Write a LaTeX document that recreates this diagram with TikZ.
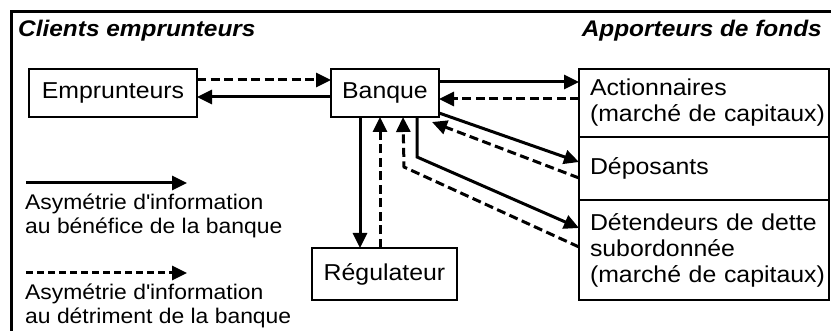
\documentclass[tikz,border=0pt]{standalone}
\usepackage{fontspec}
\setmainfont[FakeStretch=1.08]{Liberation Sans}
\usetikzlibrary{arrows.meta}
\newcommand\bxfont{\fontsize{23}{26}\selectfont}
\newcommand\lgfont{\fontsize{21.2}{24}\selectfont}
\newcommand\ttfontx{\bfseries\itshape\fontsize{22.6}{24}\selectfont}
\newcommand\bl[1]{\mbox{\hspace*{6pt}#1}}
\begin{document}
\begin{tikzpicture}[x=1pt,y=-1pt,
  box/.style={draw,line width=2.2pt,rectangle,inner sep=0pt,outer sep=0pt,font=\bxfont},
  rbox/.style={box,minimum width=250pt,text width=240pt,align=left,inner xsep=5pt,anchor=north west},
  sol/.style={line width=3pt,-{Triangle[length=15pt,width=14pt]}},
  dsh/.style={sol,dash pattern=on 9pt off 4.5pt},
  lgd/.style={font=\lgfont,align=left,inner sep=0pt,anchor=west},
  ttl/.style={font=\ttfontx,inner sep=0pt}]
\useasboundingbox (0,0) rectangle (831,331);
% frame
\draw[line width=2.2pt] (11.5,331) -- (11.5,11.5) -- (831,11.5);
% titles
\node[ttl,anchor=base west] (tl) at (18,37) {Clients emprunteurs};
\node[ttl,anchor=base east] (tr) at (822,37) {Apporteurs de fonds};
% boxes
\node[box,minimum width=168pt,minimum height=48pt] (emp) at (113,93) {Emprunteurs};
\node[box,minimum width=108pt,minimum height=48pt] (ban) at (385,93) {Banque};
\node[rbox,minimum height=68pt] (act) at (579,69) {\bl{Actionnaires}\\\bl{(marché de capitaux)}};
\node[rbox,minimum height=63pt] (dep) at (579,137) {\bl{Déposants}};
\node[rbox,minimum height=100pt] (det) at (579,200) {\bl{Détendeurs de dette}\\\bl{subordonnée}\\\bl{(marché de capitaux)}};
\node[box,minimum width=145pt,minimum height=52pt] (reg) at (384.5,274) {Régulateur};
% connectors
\draw[dsh] ([yshift=13pt]emp.east) -- ([yshift=13pt]ban.west);
\draw[sol] ([yshift=-4pt]ban.west) -- ([yshift=-4pt]emp.east);
\draw[sol] ([yshift=11pt]ban.east) -- ([yshift=21pt]act.west);
\draw[dsh] ([yshift=4pt]act.west) -- ([yshift=-6pt]ban.east);
\draw[sol] ([yshift=-20pt]ban.east) -- ([yshift=6.5pt]dep.west);
\draw[dsh] ([yshift=-9.5pt]dep.west) -- ([xshift=-7pt,yshift=-5pt]ban.south east);
\draw[sol] ([xshift=32pt]ban.south) -- ++(0,40) -- ([yshift=22pt]det.west);
\draw[dsh] ([yshift=3pt]det.west) -- ++(-175,-80) -- ([xshift=18pt]ban.south);
\draw[sol] ([xshift=-25pt]ban.south) -- ([xshift=-25pt]ban.south |- reg.north);
\draw[dsh] ([xshift=-4.5pt]reg.north) -- ([xshift=-5pt]ban.south);
% legend
\coordinate (l1a) at (26,183);
\coordinate (l1b) at (187,183);
\draw[sol] (l1a) -- (l1b);
\node[lgd] (t1) at (25,216) {Asymétrie d\textquotesingle information\\au bénéfice de la banque};
\coordinate (l2a) at (26,273);
\coordinate (l2b) at (187,273);
\draw[dsh,dash pattern=on 7pt off 4pt] (l2a) -- (l2b);
\node[lgd] (t2) at (25,306) {Asymétrie d\textquotesingle information\\au détriment de la banque};
\end{tikzpicture}
\end{document}
